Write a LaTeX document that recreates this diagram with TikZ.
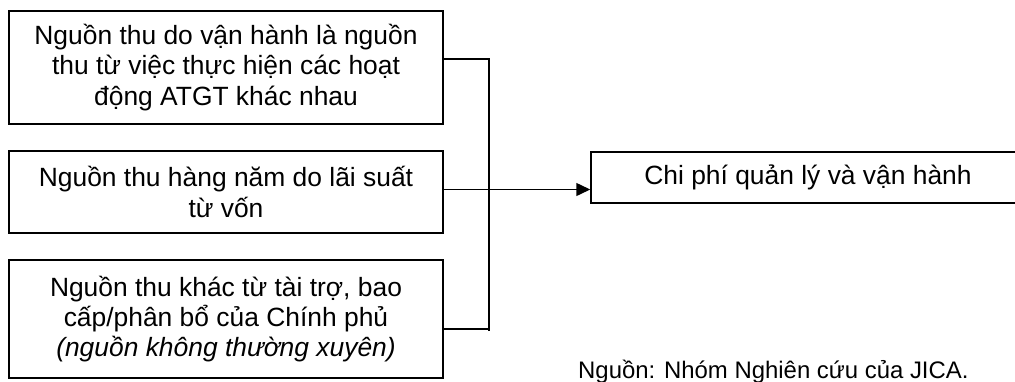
\documentclass[tikz,border=0pt]{standalone}
\usepackage{fontspec}
\setmainfont{Liberation Sans}
\usetikzlibrary{arrows.meta}
\begin{document}
\begin{tikzpicture}[x=1bp,y=-1bp,
  box/.style={draw, line width=1.5bp, inner sep=0pt, align=center,
    font=\fontsize{26.5}{30.5}\selectfont},
  link/.style={line width=1.5bp},
  tip/.style={-{Triangle[length=14bp,width=13bp]}}]
\useasboundingbox (0,0) rectangle (1015,381);
\clip (0,0) rectangle (1015,381);

% revenue sources
\node[box, minimum width=434bp, minimum height=113bp] (b1) at (226,67.5)
  {Nguồn thu do vận hành là nguồn\\thu từ việc thực hiện các hoạt\\động ATGT khác nhau};
\node[box, minimum width=434bp, minimum height=82bp] (b2) at (226,192)
  {Nguồn thu hàng năm do lãi suất\\từ vốn};
\node[box, minimum width=434bp, minimum height=118bp] (b3) at (226,319)
  {Nguồn thu khác từ tài trợ, bao\\cấp/phân bổ của Chính phủ\\\textit{(nguồn không thường xuyên)}};

% cost box
\node[box, minimum width=434bp, minimum height=51bp] (b4) at (808,177.5)
  {Chi phí quản lý và vận hành};

% collecting bracket
\coordinate (jt) at (489,59);
\coordinate (jb) at (489,331);
\coordinate (j3) at (489,329);
\coordinate (a2) at (489,189.5);
\draw[link] (b1.east |- jt) -- (jt) -- (jb);
\draw[link] (b3.east |- j3) -- (j3);
\draw[link, tip] (b2.east |- a2) -- (b4.west |- a2);

% source note
\node[anchor=base west, inner sep=0pt, font=\fontsize{24}{28}\selectfont] (src) at (578,378)
  {Nguồn: Nhóm Nghiên cứu của JICA.};
\end{tikzpicture}
\end{document}
